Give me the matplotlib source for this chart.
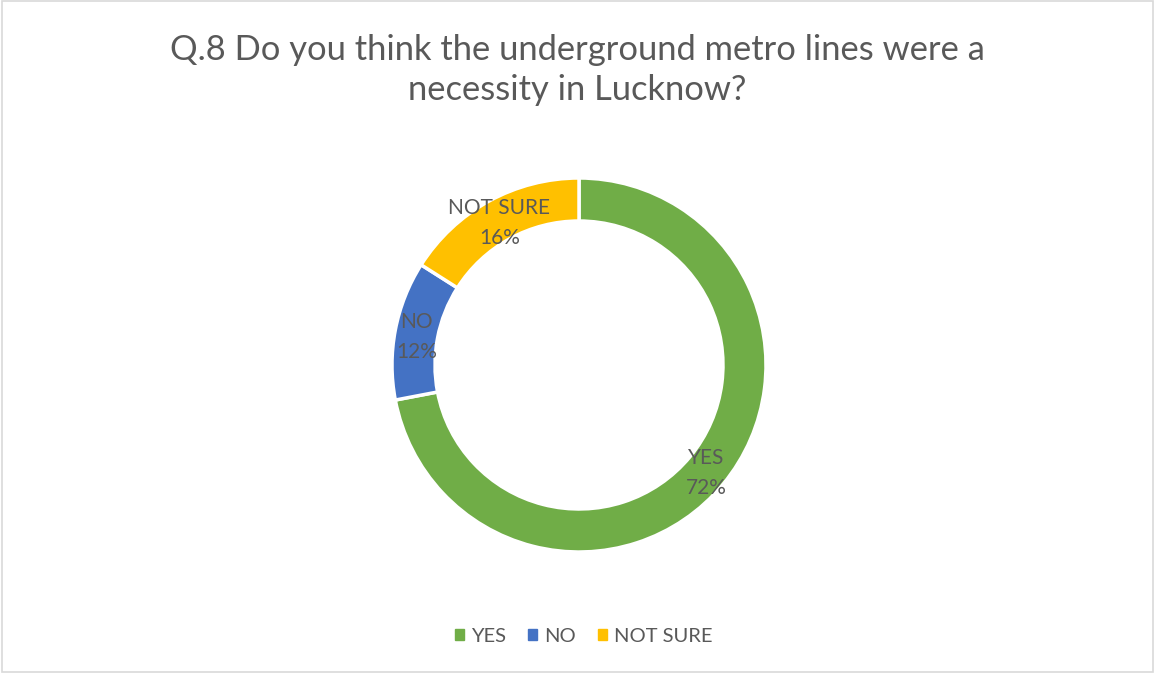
import numpy as np
import matplotlib.pyplot as plt
from matplotlib.patches import Rectangle

labels = ["YES", "NO", "NOT SURE"]
shares = [72, 12, 16]
colors = ["#70AD47", "#4472C4", "#FFC000"]
title = "Q.8 Do you think the underground metro lines were a\nnecessity in Lucknow?"

plt.rcParams["font.family"] = ["Lato", "DejaVu Sans"]
text_color = "#595959"

W, H = 1155, 673
fig = plt.figure(figsize=(W / 100, H / 100), dpi=100)

# donut centred at (579, 365) px, outer radius 187 px
cx, cy, r = 579, 365, 187
ax = fig.add_axes([(cx - r) / W, (H - cy - r) / H, 2 * r / W, 2 * r / H])
ring = 0.23
wedges, texts = ax.pie(
    shares, colors=colors, startangle=90, counterclock=False, radius=1,
    wedgeprops=dict(width=ring, edgecolor="white", linewidth=2.5),
)
ax.set_xlim(-1, 1)
ax.set_ylim(-1, 1)
ax.set_aspect("equal")
ax.axis("off")

# data labels at the middle of the ring
mid_r = 1 - ring / 2
for w, lab, v in zip(wedges, labels, shares):
    ang = np.deg2rad((w.theta1 + w.theta2) / 2)
    ax.text(mid_r * np.cos(ang), mid_r * np.sin(ang) - 0.015, f"{lab}\n{v}%",
            ha="center", va="center", fontsize=15, color=text_color,
            linespacing=1.62)

fig.text(0.5, 1 - 70 / H, title, ha="center", va="center", fontsize=24.8,
         color=text_color, linespacing=1.3)

handles = [Rectangle((0, 0), 1, 1, color=c) for c in colors]
fig.legend(handles, labels, loc="center", bbox_to_anchor=(584 / W, 1 - 636 / H),
           ncol=3, frameon=False, fontsize=14.5, labelcolor=text_color,
           handlelength=0.45, handleheight=0.45, handletextpad=0.35,
           columnspacing=1.1)

fig.add_artist(Rectangle((0.002, 0.001), 0.996, 0.997, transform=fig.transFigure,
                         fill=False, edgecolor="#D9D9D9", linewidth=1.2))

fig.savefig("out.png", dpi=100, facecolor="white")
